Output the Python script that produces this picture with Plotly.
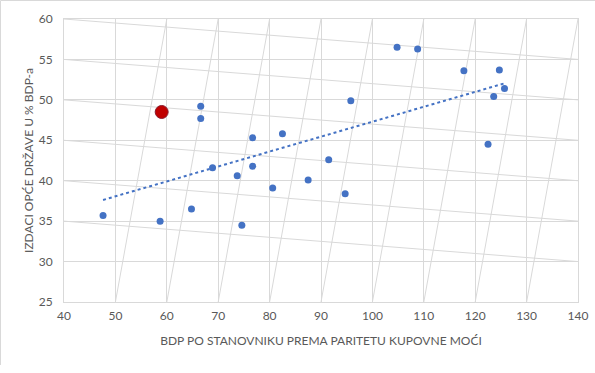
import numpy as np
import plotly.graph_objects as go

# Data
gdp_pps = [47.6, 58.7, 64.8, 66.6, 66.6, 68.9, 73.7, 74.6, 76.7, 76.7, 80.6, 82.5,
           87.5, 91.5, 94.7, 95.8, 104.8, 108.8, 117.8, 122.5, 123.6, 124.7, 125.7]
gov_exp = [35.7, 35.0, 36.5, 49.2, 47.7, 41.6, 40.6, 34.5, 45.3, 41.8, 39.1, 45.8,
           40.1, 42.6, 38.4, 49.9, 56.5, 56.3, 53.6, 44.5, 50.4, 53.7, 51.4]
hr_gdp = [59.0]
hr_exp = [48.5]

x_ticks = [40, 50, 60, 70, 80, 90, 100, 110, 120, 130, 140]
y_ticks = [25, 30, 35, 40, 45, 50, 55, 60]

GRID = "#D9D9D9"
TXT = "#595959"
BLUE = "#4472C4"

fig = go.Figure()

fig.add_trace(go.Scatter(x=gdp_pps, y=gov_exp, mode="markers",
                         marker=dict(color=BLUE, size=7, line=dict(width=0)),
                         showlegend=False, hoverinfo="x+y"))

# linear trendline (Excel-style) over all countries
all_x = gdp_pps + hr_gdp
all_y = gov_exp + hr_exp
a, b = np.polyfit(all_x, all_y, 1)
tx = [min(all_x), max(all_x)]
ty = [a * v + b for v in tx]
fig.add_trace(go.Scatter(x=tx, y=ty, mode="lines",
                         line=dict(color=BLUE, width=2, dash="dot"),
                         showlegend=False, hoverinfo="skip"))

fig.add_trace(go.Scatter(x=hr_gdp, y=hr_exp, mode="markers",
                         marker=dict(color="#C00000", size=13,
                                     line=dict(color="#8B1A2B", width=1)),
                         showlegend=False, hoverinfo="x+y"))

# sheared (tilted) grid visible in the reference
shapes = []
xs = x_ticks
ys = y_ticks
for i in range(2, len(xs)):
    shapes.append(dict(type="line", xref="x", yref="y", layer="below",
                       x0=xs[i], y0=ys[-1], x1=xs[i - 1], y1=ys[0],
                       line=dict(color=GRID, width=1)))
for j in range(2, len(ys)):
    shapes.append(dict(type="line", xref="x", yref="y", layer="below",
                       x0=xs[0], y0=ys[j], x1=xs[-1], y1=ys[j - 1],
                       line=dict(color=GRID, width=1)))
# outer chart border (top and left)
shapes.append(dict(type="line", xref="paper", yref="paper",
                   x0=-0.1235, y0=1.0654, x1=1.2, y1=1.0654,
                   line=dict(color=GRID, width=1)))
shapes.append(dict(type="line", xref="paper", yref="paper",
                   x0=-0.1235, y0=1.0654, x1=-0.1235, y1=-0.2226,
                   line=dict(color=GRID, width=1)))

font_family = "Lato, 'Open Sans', sans-serif"

fig.update_layout(
    width=595, height=373,
    margin=dict(l=64, r=17, t=19, b=71, autoexpand=False),
    paper_bgcolor="white", plot_bgcolor="white",
    font=dict(family=font_family, color=TXT, size=12),
    shapes=shapes,
    xaxis=dict(range=[40, 140], tickvals=x_ticks, ticktext=[str(v) for v in x_ticks],
               automargin=False,
               showgrid=True, gridcolor=GRID, gridwidth=1,
               showline=True, linecolor=GRID, mirror=True, zeroline=False,
               ticks="", ticklabelstandoff=3,
               tickfont=dict(size=12, color=TXT),
               title=dict(text="BDP PO STANOVNIKU PREMA PARITETU KUPOVNE MOĆI",
                          font=dict(size=12, color=TXT), standoff=14)),
    yaxis=dict(range=[25, 60], tickvals=y_ticks, ticktext=[str(v) for v in y_ticks],
               automargin=False,
               showgrid=True, gridcolor=GRID, gridwidth=1,
               showline=True, linecolor=GRID, mirror=True, zeroline=False,
               ticks="", ticklabelstandoff=8,
               tickfont=dict(size=12, color=TXT),
               title=dict(text="IZDACI OPĆE DRŽAVE U % BDP-a",
                          font=dict(size=12, color=TXT), standoff=2)),
)

fig.write_html("out.html", config={"displayModeBar": False},
               post_script="document.body.style.margin='0';document.body.style.overflow='hidden';")
